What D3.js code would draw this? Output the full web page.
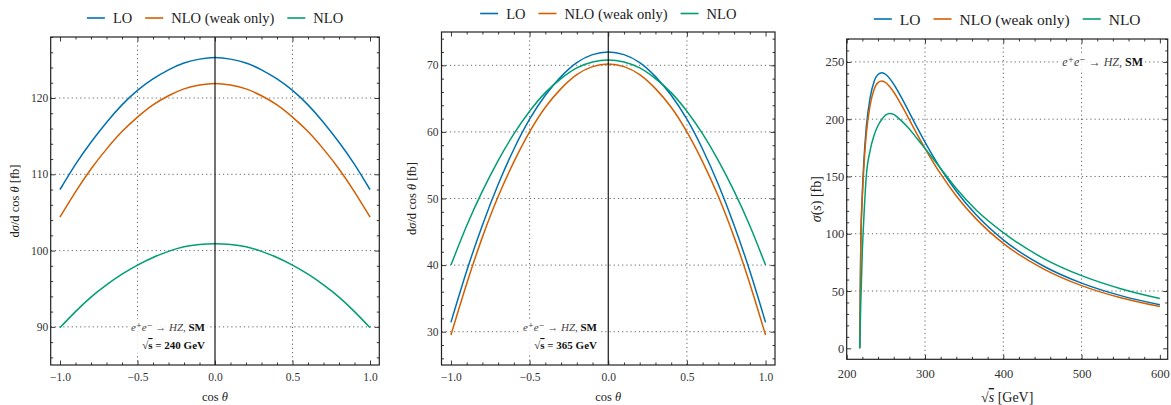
<!DOCTYPE html>
<html>
<head>
<meta charset="utf-8">
<script src="https://cdn.jsdelivr.net/npm/d3@7"></script>
<style>
  body { margin: 0; background: #fff; }
  svg { display: block; font-family: "Liberation Serif", "DejaVu Serif", serif; }
</style>
</head>
<body>
<svg id="chart" width="1171" height="405"></svg>
<script>
// angular distributions
const cosTheta = [-1.0, -0.9, -0.8, -0.7, -0.6, -0.5, -0.4, -0.3, -0.2, -0.1, 0.0, 0.1, 0.2, 0.3, 0.4, 0.5, 0.6, 0.7, 0.8, 0.9, 1.0];

const lo240 = [108.0, 111.3, 114.2, 116.8, 119.1, 121.0, 122.5, 123.7, 124.6, 125.1, 125.3, 125.1, 124.6, 123.7, 122.5, 121.0, 119.1, 116.8, 114.2, 111.3, 108.0];
const nloWeak240 = [104.4, 107.7, 110.7, 113.3, 115.6, 117.5, 119.1, 120.3, 121.2, 121.7, 121.9, 121.7, 121.2, 120.3, 119.1, 117.5, 115.6, 113.3, 110.7, 107.7, 104.4];
const nlo240 = [89.9, 92.0, 93.9, 95.5, 96.9, 98.1, 99.1, 99.9, 100.5, 100.8, 100.9, 100.8, 100.5, 99.9, 99.1, 98.1, 96.9, 95.5, 93.9, 92.0, 89.9];

const lo365 = [31.4, 39.1, 46.0, 52.1, 57.4, 61.9, 65.5, 68.3, 70.4, 71.6, 72.0, 71.6, 70.4, 68.3, 65.5, 61.9, 57.4, 52.1, 46.0, 39.1, 31.4];
const nloWeak365 = [29.5, 37.2, 44.2, 50.3, 55.5, 60.0, 63.7, 66.5, 68.6, 69.8, 70.2, 69.8, 68.6, 66.5, 63.7, 60.0, 55.5, 50.3, 44.2, 37.2, 29.5];
const nlo365 = [40.0, 45.9, 51.1, 55.7, 59.7, 63.1, 65.9, 68.0, 69.6, 70.5, 70.8, 70.5, 69.6, 68.0, 65.9, 63.1, 59.7, 55.7, 51.1, 45.9, 40.0];

// total cross section vs sqrt(s)
const sqrtS = [216.6, 218, 220, 222, 225, 230, 235, 240, 245, 250, 255, 260, 265, 270, 280, 290, 300, 320, 340, 365, 400, 450, 500, 550, 600];
const sigmaLO = [0, 92, 136, 164, 193, 219, 233, 239, 240.5, 239, 235.4, 230.6, 225, 218.8, 205.8, 192.6, 180, 156.9, 137.1, 116.7, 94.6, 72.3, 56.9, 46.0, 38.0];
const sigmaNLOweak = [0, 89, 132, 159, 187, 212.5, 226, 232, 233.3, 231.8, 228.3, 223.7, 218.2, 212.2, 199.6, 186.8, 174.6, 152.2, 133.0, 113.2, 91.6, 69.8, 54.7, 44.1, 36.4];
const sigmaNLO = [0, 40, 85, 115, 150, 173, 186, 194.5, 200, 203.8, 205, 204.2, 201.6, 198.5, 191.5, 183, 174.5, 157, 139.5, 121, 101, 79, 63.4, 52, 43.4];

const seriesNames = ["LO", "NLO (weak only)", "NLO"];
const seriesColors = ["#0072B2", "#D55E00", "#009E73"];

// tick labels
const xTicksCos = [-1.0, -0.5, 0.0, 0.5, 1.0];
const yTicks240 = [90, 100, 110, 120];
const yTicks365 = [30, 40, 50, 60, 70];
const xTicksS = [200, 300, 400, 500, 600];
const yTicksSigma = [0, 50, 100, 150, 200, 250];

const svg = d3.select("#chart");
const ink = "#222";

const panels = [
  {
    left: 50.7, right: 379.3, top: 37, bottom: 365,
    xDom: [-1.06, 1.06], yDom: [85, 128],
    xs: cosTheta, ys: [lo240, nloWeak240, nlo240], curve: d3.curveNatural,
    xMajor: xTicksCos, xMinor: d3.range(-1.0, 1.05, 0.1), xGrid: [-0.5, 0.5],
    yMajor: yTicks240, yMinor: d3.range(86, 129, 2), yGrid: yTicks240,
    xFmt: d3.format(".1f"), yFmt: d3.format("d"),
    zeroLine: true, tickFont: 11.5, xPad: 7.5, yPad: 2.5,
    legendY: 18, legendFont: 14.5,
    yLabelX: 15, xLabelY: 397, labelFont: 12.5, yLabel: "dcos", xLabel: "cos",
    noteFont: 11, note: { x: 205, y1: 327, y2: 345, energy: "240" }
  },
  {
    left: 441.5, right: 775, top: 32, bottom: 365,
    xDom: [-1.06, 1.06], yDom: [25, 75],
    xs: cosTheta, ys: [lo365, nloWeak365, nlo365], curve: d3.curveNatural,
    xMajor: xTicksCos, xMinor: d3.range(-1.0, 1.05, 0.1), xGrid: [-0.5, 0.5],
    yMajor: yTicks365, yMinor: d3.range(26, 75, 2), yGrid: yTicks365,
    xFmt: d3.format(".1f"), yFmt: d3.format("d"),
    zeroLine: true, tickFont: 11.5, xPad: 7.5, yPad: 3,
    legendY: 13.5, legendFont: 14.5,
    yLabelX: 411.5, xLabelY: 397, labelFont: 12.5, yLabel: "dcos", xLabel: "cos",
    noteFont: 11, note: { x: 597, y1: 327, y2: 345, energy: "365" }
  },
  {
    left: 846.7, right: 1167.7, top: 39, bottom: 359.3,
    xDom: [200, 610], yDom: [-9.6, 270],
    xs: sqrtS, ys: [sigmaLO, sigmaNLOweak, sigmaNLO], curve: d3.curveMonotoneX,
    xMajor: xTicksS, xMinor: d3.range(200, 611, 20), xGrid: [300, 400, 500],
    yMajor: yTicksSigma, yMinor: d3.range(0, 271, 10), yGrid: [50, 100, 150, 200, 250],
    xFmt: d3.format("d"), yFmt: d3.format("d"),
    zeroLine: false, tickFont: 12.5, xPad: 9.5, yPad: 2.5,
    legendY: 19, legendFont: 15.5,
    yLabelX: 816, xLabelY: 397, labelFont: 14, yLabel: "sigma", xLabel: "sqrts",
    noteFont: 12, note: { x: 1143, y1: 62, y2: null }
  }
];

panels.forEach((p, pi) => {
  const x = d3.scaleLinear().domain(p.xDom).range([p.left, p.right]);
  const y = d3.scaleLinear().domain(p.yDom).range([p.bottom, p.top]);
  const g = svg.append("g").attr("class", "panel" + pi);

  svg.append("clipPath").attr("id", "clip" + pi)
    .append("rect")
    .attr("x", p.left).attr("y", p.top)
    .attr("width", p.right - p.left).attr("height", p.bottom - p.top);

  // dotted grid
  g.selectAll(".gx").data(p.xGrid).enter().append("line")
    .attr("x1", d => x(d)).attr("x2", d => x(d))
    .attr("y1", p.top).attr("y2", p.bottom)
    .attr("stroke", "#555").attr("stroke-width", 0.9).attr("stroke-dasharray", "1.2,3");
  g.selectAll(".gy").data(p.yGrid).enter().append("line")
    .attr("x1", p.left).attr("x2", p.right)
    .attr("y1", d => y(d)).attr("y2", d => y(d))
    .attr("stroke", "#555").attr("stroke-width", 0.9).attr("stroke-dasharray", "1.2,3");

  // curves
  const line = d3.line()
    .x((d, i) => x(p.xs[i]))
    .y(d => y(d))
    .curve(p.curve);
  const curves = g.append("g").attr("clip-path", `url(#clip${pi})`);
  p.ys.forEach((vals, k) => {
    curves.append("path")
      .datum(vals)
      .attr("d", line)
      .attr("fill", "none")
      .attr("stroke", seriesColors[k])
      .attr("stroke-width", 1.5);
  });

  if (p.zeroLine) {
    g.append("line")
      .attr("x1", x(0)).attr("x2", x(0))
      .attr("y1", p.top).attr("y2", p.bottom)
      .attr("stroke", "#000").attr("stroke-width", 1.1);
  }

  // ticks on all four sides, pointing inwards
  const minorX = p.xMinor.filter(v => !p.xMajor.some(m => Math.abs(m - v) < 1e-6) && v >= p.xDom[0] && v <= p.xDom[1]);
  const minorY = p.yMinor.filter(v => !p.yMajor.some(m => Math.abs(m - v) < 1e-6) && v >= p.yDom[0] && v <= p.yDom[1]);

  const addAxis = (axis, tx, ty) => {
    const a = g.append("g").attr("transform", `translate(${tx},${ty})`).call(axis);
    a.select(".domain").remove();
    a.selectAll("line").attr("stroke", ink).attr("stroke-width", 0.9);
    a.selectAll("text").attr("fill", "#333").style("font-size", p.tickFont + "px")
      .style("font-family", '"Liberation Serif", serif');
    return a;
  };
  addAxis(d3.axisBottom(x).tickValues(p.xMajor).tickSize(-4.5).tickPadding(p.xPad).tickFormat(p.xFmt), 0, p.bottom);
  addAxis(d3.axisBottom(x).tickValues(minorX).tickSize(-2.5).tickFormat(""), 0, p.bottom);
  addAxis(d3.axisTop(x).tickValues(p.xMajor).tickSize(-4.5).tickFormat(""), 0, p.top);
  addAxis(d3.axisTop(x).tickValues(minorX).tickSize(-2.5).tickFormat(""), 0, p.top);
  addAxis(d3.axisLeft(y).tickValues(p.yMajor).tickSize(-4.5).tickPadding(p.yPad).tickFormat(p.yFmt), p.left, 0);
  addAxis(d3.axisLeft(y).tickValues(minorY).tickSize(-2.5).tickFormat(""), p.left, 0);
  addAxis(d3.axisRight(y).tickValues(p.yMajor).tickSize(-4.5).tickFormat(""), p.right, 0);
  addAxis(d3.axisRight(y).tickValues(minorY).tickSize(-2.5).tickFormat(""), p.right, 0);

  // frame
  g.append("rect")
    .attr("x", p.left).attr("y", p.top)
    .attr("width", p.right - p.left).attr("height", p.bottom - p.top)
    .attr("fill", "none").attr("stroke", ink).attr("stroke-width", 1.2);

  // axis labels
  const cx = (p.left + p.right) / 2;
  const cy = (p.top + p.bottom) / 2;
  const yl = g.append("text")
    .attr("transform", `translate(${p.yLabelX},${cy}) rotate(-90)`)
    .attr("text-anchor", "middle").attr("dominant-baseline", "central")
    .attr("fill", ink).style("font-size", p.labelFont + "px");
  if (p.yLabel === "dcos") {
    yl.append("tspan").text("d");
    yl.append("tspan").attr("font-style", "italic").text("σ");
    yl.append("tspan").text("/d cos ");
    yl.append("tspan").attr("font-style", "italic").text("θ");
    yl.append("tspan").text(" [fb]");
  } else {
    yl.append("tspan").attr("font-style", "italic").text("σ");
    yl.append("tspan").text("(");
    yl.append("tspan").attr("font-style", "italic").text("s");
    yl.append("tspan").text(") [fb]");
  }

  const xl = g.append("text")
    .attr("x", cx).attr("y", p.xLabelY)
    .attr("text-anchor", "middle").attr("dominant-baseline", "central")
    .attr("fill", ink).style("font-size", p.labelFont + "px");
  if (p.xLabel === "cos") {
    xl.append("tspan").text("cos ");
    xl.append("tspan").attr("font-style", "italic").text("θ");
  } else {
    xl.append("tspan").text("√");
    xl.append("tspan").attr("font-style", "italic").style("text-decoration", "overline").text("s");
    xl.append("tspan").text(" [GeV]");
  }

  // process annotation with a white box behind it
  const note = g.append("g");
  const box = note.append("rect").attr("fill", "#fff").attr("fill-opacity", 0.85);
  const t1 = note.append("text")
    .attr("x", p.note.x).attr("y", p.note.y1)
    .attr("text-anchor", "end").attr("dominant-baseline", "central")
    .attr("fill", "#444").style("font-size", p.noteFont + "px");
  t1.append("tspan").attr("font-style", "italic").text("e");
  t1.append("tspan").text("⁺");
  t1.append("tspan").attr("font-style", "italic").text("e");
  t1.append("tspan").text("⁻ → ");
  t1.append("tspan").attr("font-style", "italic").text("HZ");
  t1.append("tspan").text(", ");
  t1.append("tspan").attr("font-weight", "bold").attr("fill", "#111").text("SM");
  if (p.note.y2 !== null) {
    const t2 = note.append("text")
      .attr("x", p.note.x).attr("y", p.note.y2)
      .attr("text-anchor", "end").attr("dominant-baseline", "central")
      .attr("fill", "#111").attr("font-weight", "bold").style("font-size", "11px");
    t2.append("tspan").text("√");
    t2.append("tspan").style("text-decoration", "overline").text("s");
    t2.append("tspan").text(" = " + p.note.energy + " GeV");
  }
  const bb = note.node().getBBox();
  box.attr("x", bb.x - 3).attr("y", bb.y - 2).attr("width", bb.width + 5).attr("height", bb.height + 4);

  // legend above the frame, centred on the panel
  const leg = g.append("g");
  let pos = 0;
  seriesNames.forEach((name, k) => {
    leg.append("line")
      .attr("x1", pos).attr("x2", pos + 18)
      .attr("y1", 0).attr("y2", 0)
      .attr("stroke", seriesColors[k]).attr("stroke-width", 1.6);
    const t = leg.append("text")
      .attr("x", pos + 26).attr("y", 0)
      .attr("dominant-baseline", "central")
      .attr("fill", ink).style("font-size", p.legendFont + "px")
      .text(name);
    pos += 26 + t.node().getComputedTextLength() + 13;
  });
  pos -= 13;
  leg.attr("transform", `translate(${cx - pos / 2},${p.legendY})`);
});
</script>
</body>
</html>
